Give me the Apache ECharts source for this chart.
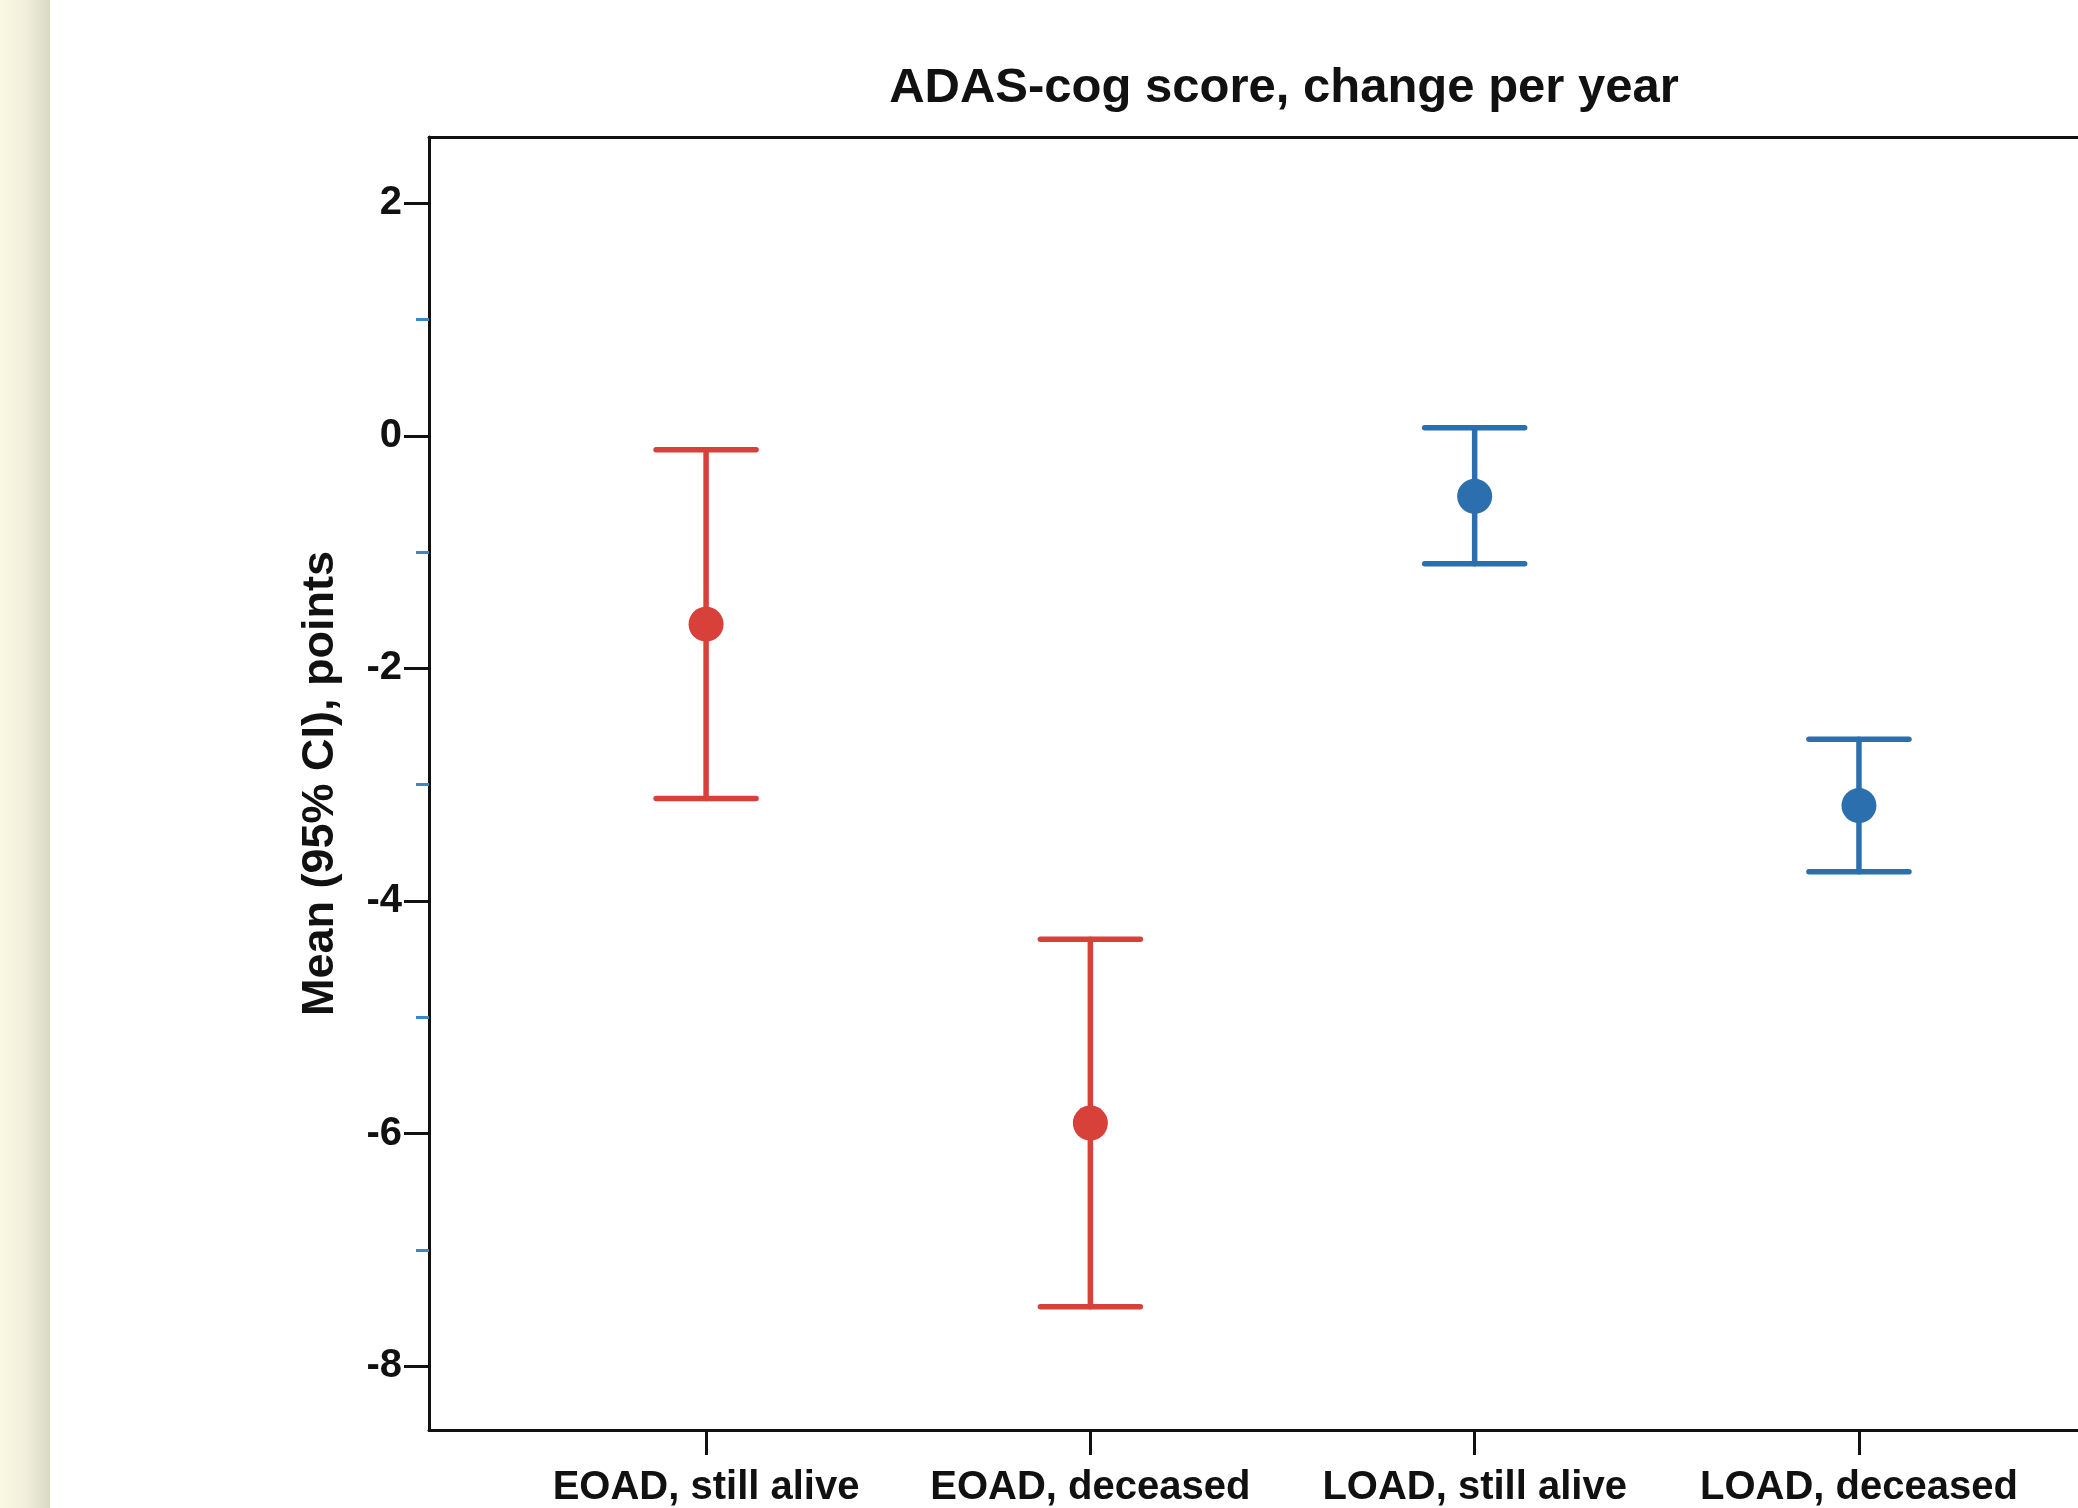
<!DOCTYPE html>
<html>
<head>
<meta charset="utf-8">
<script src="https://cdn.jsdelivr.net/npm/echarts@6/dist/echarts.min.js"></script>
<style>
html,body{margin:0;padding:0;background:#fff;overflow:hidden;}
#chart{width:2078px;height:1508px;}
</style>
</head>
<body>
<div id="chart"></div>
<script>
// ---- data ----
const categories = ['EOAD, still alive', 'EOAD, deceased', 'LOAD, still alive', 'LOAD, deceased'];
const meanValues = [-1.62, -5.91, -0.52, -3.18];
const upperCI   = [-0.12, -4.33, 0.07, -2.61];
const lowerCI   = [-3.12, -7.49, -1.10, -3.75];
const groupColors = ['#d8403a', '#d8403a', '#2b6fae', '#2b6fae'];
const yTickLabels = [-8, -6, -4, -2, 0, 2];
const yMinorTicks = [-7, -5, -3, -1, 1];
const titleText = 'ADAS-cog score, change per year';
const yAxisTitle = 'Mean (95% CI), points';

const FONT = '"Liberation Sans", Arial, Helvetica, sans-serif';
const xPos = categories.map((c, i) => i + 1);
const X_MIN = 0.279, X_MAX = 4.570;
const Y_MIN = -8.55, Y_MAX = 2.57;

const errData = categories.map((c, i) => [xPos[i], lowerCI[i], upperCI[i], i]);
const meanData = categories.map((c, i) => ({
  value: [xPos[i], meanValues[i]],
  itemStyle: { color: groupColors[i], opacity: 1 }
}));

const chart = echarts.init(document.getElementById('chart'), null, { renderer: 'canvas' });

const frameLine = { show: true, onZero: false, lineStyle: { color: '#111', width: 3 } };

chart.setOption({
  animation: false,
  backgroundColor: '#ffffff',
  title: {
    text: titleText,
    left: 1279,
    top: 59,
    textAlign: 'center',
    textStyle: { fontFamily: FONT, fontWeight: 'bold', fontSize: 49, color: '#111' }
  },
  graphic: [{
    type: 'rect',
    left: 0, top: 0,
    shape: { width: 50, height: 1508 },
    style: {
      fill: new echarts.graphic.LinearGradient(0, 0, 1, 0, [
        { offset: 0, color: '#faf8e2' },
        { offset: 0.5, color: '#f2f0dc' },
        { offset: 1, color: '#d9d9c6' }
      ])
    },
    z: 100
  }],
  grid: {
    left: 429, top: 137, right: 0, height: 1293
  },
  xAxis: [{
    type: 'value',
    min: X_MIN, max: X_MAX,
    position: 'bottom',
    splitLine: { show: false },
    axisLine: frameLine,
    axisTick: { show: true, customValues: xPos, length: 25, lineStyle: { color: '#111', width: 3 } },
    axisLabel: {
      show: true, customValues: xPos, margin: 38,
      formatter: v => categories[Math.round(v) - 1] || '',
      fontFamily: FONT, fontWeight: 'bold', fontSize: 40, color: '#111'
    }
  }, {
    type: 'value',
    min: X_MIN, max: X_MAX,
    position: 'top',
    splitLine: { show: false },
    axisLine: frameLine,
    axisTick: { show: false },
    axisLabel: { show: false }
  }],
  yAxis: [{
    type: 'value',
    min: Y_MIN, max: Y_MAX,
    splitLine: { show: false },
    axisLine: frameLine,
    axisTick: { show: true, customValues: yTickLabels, length: 25, lineStyle: { color: '#111', width: 3 } },
    axisLabel: {
      show: true, customValues: yTickLabels, margin: 27,
      fontFamily: FONT, fontWeight: 'bold', fontSize: 40, color: '#111'
    },
    name: yAxisTitle,
    nameLocation: 'middle',
    nameRotate: 90,
    nameGap: 86,
    nameTextStyle: { fontFamily: FONT, fontWeight: 'bold', fontSize: 45, color: '#111' }
  }, {
    type: 'value',
    position: 'left',
    min: Y_MIN, max: Y_MAX,
    splitLine: { show: false },
    axisLine: { show: false },
    axisLabel: { show: false },
    axisTick: { show: true, customValues: yMinorTicks, length: 13, lineStyle: { color: '#3b86c6', width: 3 } }
  }],
  series: [{
    type: 'custom',
    data: errData,
    renderItem: function (params, api) {
      const x = api.value(0);
      const lo = api.coord([x, api.value(1)]);
      const hi = api.coord([x, api.value(2)]);
      const color = groupColors[api.value(3)];
      const half = 50;
      const style = { stroke: color, lineWidth: 5.5, lineCap: 'round' };
      return {
        type: 'group',
        children: [
          { type: 'line', shape: { x1: lo[0], y1: lo[1], x2: hi[0], y2: hi[1] }, style: style },
          { type: 'line', shape: { x1: hi[0] - half, y1: hi[1], x2: hi[0] + half, y2: hi[1] }, style: style },
          { type: 'line', shape: { x1: lo[0] - half, y1: lo[1], x2: lo[0] + half, y2: lo[1] }, style: style }
        ]
      };
    },
    z: 2
  }, {
    type: 'scatter',
    data: meanData,
    symbol: 'circle',
    symbolSize: 35,
    z: 3
  }]
});
</script>
</body>
</html>
